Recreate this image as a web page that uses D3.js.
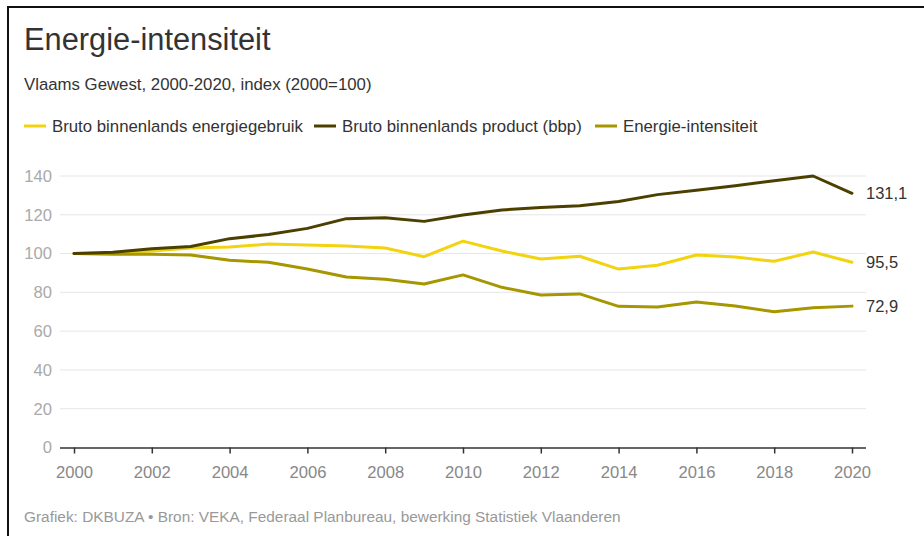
<!DOCTYPE html>
<html>
<head>
<meta charset="utf-8">
<script src="https://cdn.jsdelivr.net/npm/d3@7"></script>
<style>
  html, body { margin: 0; padding: 0; background: #fff; }
  svg { display: block; font-family: "Liberation Sans", Arial, sans-serif; }
  .tick text { font-size: 16.6px; font-family: "Liberation Sans", Arial, sans-serif; }
</style>
</head>
<body>
<svg id="chart" width="924" height="536"></svg>
<script>
const years = [2000,2001,2002,2003,2004,2005,2006,2007,2008,2009,2010,2011,2012,2013,2014,2015,2016,2017,2018,2019,2020];
const energyUse = [100,100,101.3,102.9,103.4,104.9,104.4,103.9,102.9,98.4,106.4,101.3,97.2,98.6,92,94,99.3,98.2,96,100.8,95.5];
const gdp = [100,100.7,102.5,103.6,107.7,109.8,113,118,118.5,116.6,119.9,122.5,123.7,124.7,126.8,130.4,132.6,135,137.6,140,131.1];
const intensity = [100,99.6,99.6,99.3,96.5,95.5,92,87.9,86.7,84.3,89,82.6,78.6,79.2,72.8,72.5,75,73,70,72.1,72.9];
const seriesNames = ["Bruto binnenlands energiegebruik","Bruto binnenlands product (bbp)","Energie-intensiteit"];
const seriesColors = ["#f2d30f","#4b4000","#a69600"];
const seriesValues = [energyUse, gdp, intensity];
const yTicks = [0,20,40,60,80,100,120,140];
const xTicks = [2000,2002,2004,2006,2008,2010,2012,2014,2016,2018,2020];
const endLabels = ["95,5","131,1","72,9"];

const svg = d3.select("#chart");

// frame
svg.append("rect").attr("x",8).attr("y",7).attr("width",1000).attr("height",1000)
  .attr("fill","none").attr("stroke","#111").attr("stroke-width",2);

svg.append("text").attr("x",24).attr("y",50).attr("font-size",30.8).attr("fill","#333")
  .text("Energie-intensiteit");
svg.append("text").attr("x",24).attr("y",90).attr("font-size",16.8).attr("fill","#333")
  .text("Vlaams Gewest, 2000-2020, index (2000=100)");

// legend
const legendX = [24, 314, 595];
seriesNames.forEach((n,i)=>{
  const g = svg.append("g").attr("transform",`translate(${legendX[i]},126)`);
  g.append("line").attr("x1",0).attr("x2",22).attr("y1",0).attr("y2",0)
    .attr("stroke",seriesColors[i]).attr("stroke-width",3);
  g.append("text").attr("x",28).attr("y",5.5).attr("font-size",16.8).attr("fill","#333").text(n);
});

const x = d3.scaleLinear().domain([2000,2020]).range([74,852]);
const y = d3.scaleLinear().domain([0,140]).range([447.5,176]);

// grid
const grid = svg.append("g");
yTicks.filter(t=>t>0).forEach(t=>{
  grid.append("line").attr("x1",60).attr("x2",866).attr("y1",y(t)).attr("y2",y(t))
    .attr("stroke","#e6e6e6").attr("stroke-width",1);
});
// y tick labels
const yAxis = d3.axisLeft(y).tickValues(yTicks).tickSize(0).tickPadding(0);
const yg = svg.append("g").attr("transform","translate(52,0)").call(yAxis);
yg.select(".domain").remove();
yg.selectAll("text").attr("fill","#aaa");

// x axis
const xAxis = d3.axisBottom(x).tickValues(xTicks).tickFormat(d3.format("d")).tickSize(6).tickPadding(13);
const xg = svg.append("g").attr("transform",`translate(0,${y(0)})`).call(xAxis);
xg.select(".domain").attr("d","M60,0.5H866").attr("stroke","#333").attr("stroke-width",1.5);
xg.selectAll(".tick line").attr("stroke","#333").attr("stroke-width",1.5);
xg.selectAll("text").attr("fill","#888");

// lines
const line = d3.line().x((d,i)=>x(years[i])).y(d=>y(d));
[0,2,1].forEach(i=>{
  svg.append("path").datum(seriesValues[i]).attr("d",line)
    .attr("fill","none").attr("stroke",seriesColors[i]).attr("stroke-width",3)
    .attr("stroke-linejoin","round").attr("stroke-linecap","round");
});
// end labels
seriesValues.forEach((v,i)=>{
  svg.append("text").attr("x",866).attr("y",y(v[v.length-1])).attr("dy","0.35em")
    .attr("font-size",16.5).attr("fill","#333").text(endLabels[i]);
});

svg.append("text").attr("x",24).attr("y",522).attr("font-size",15.4).attr("fill","#999")
  .text("Grafiek: DKBUZA • Bron: VEKA, Federaal Planbureau, bewerking Statistiek Vlaanderen");
</script>
</body>
</html>
